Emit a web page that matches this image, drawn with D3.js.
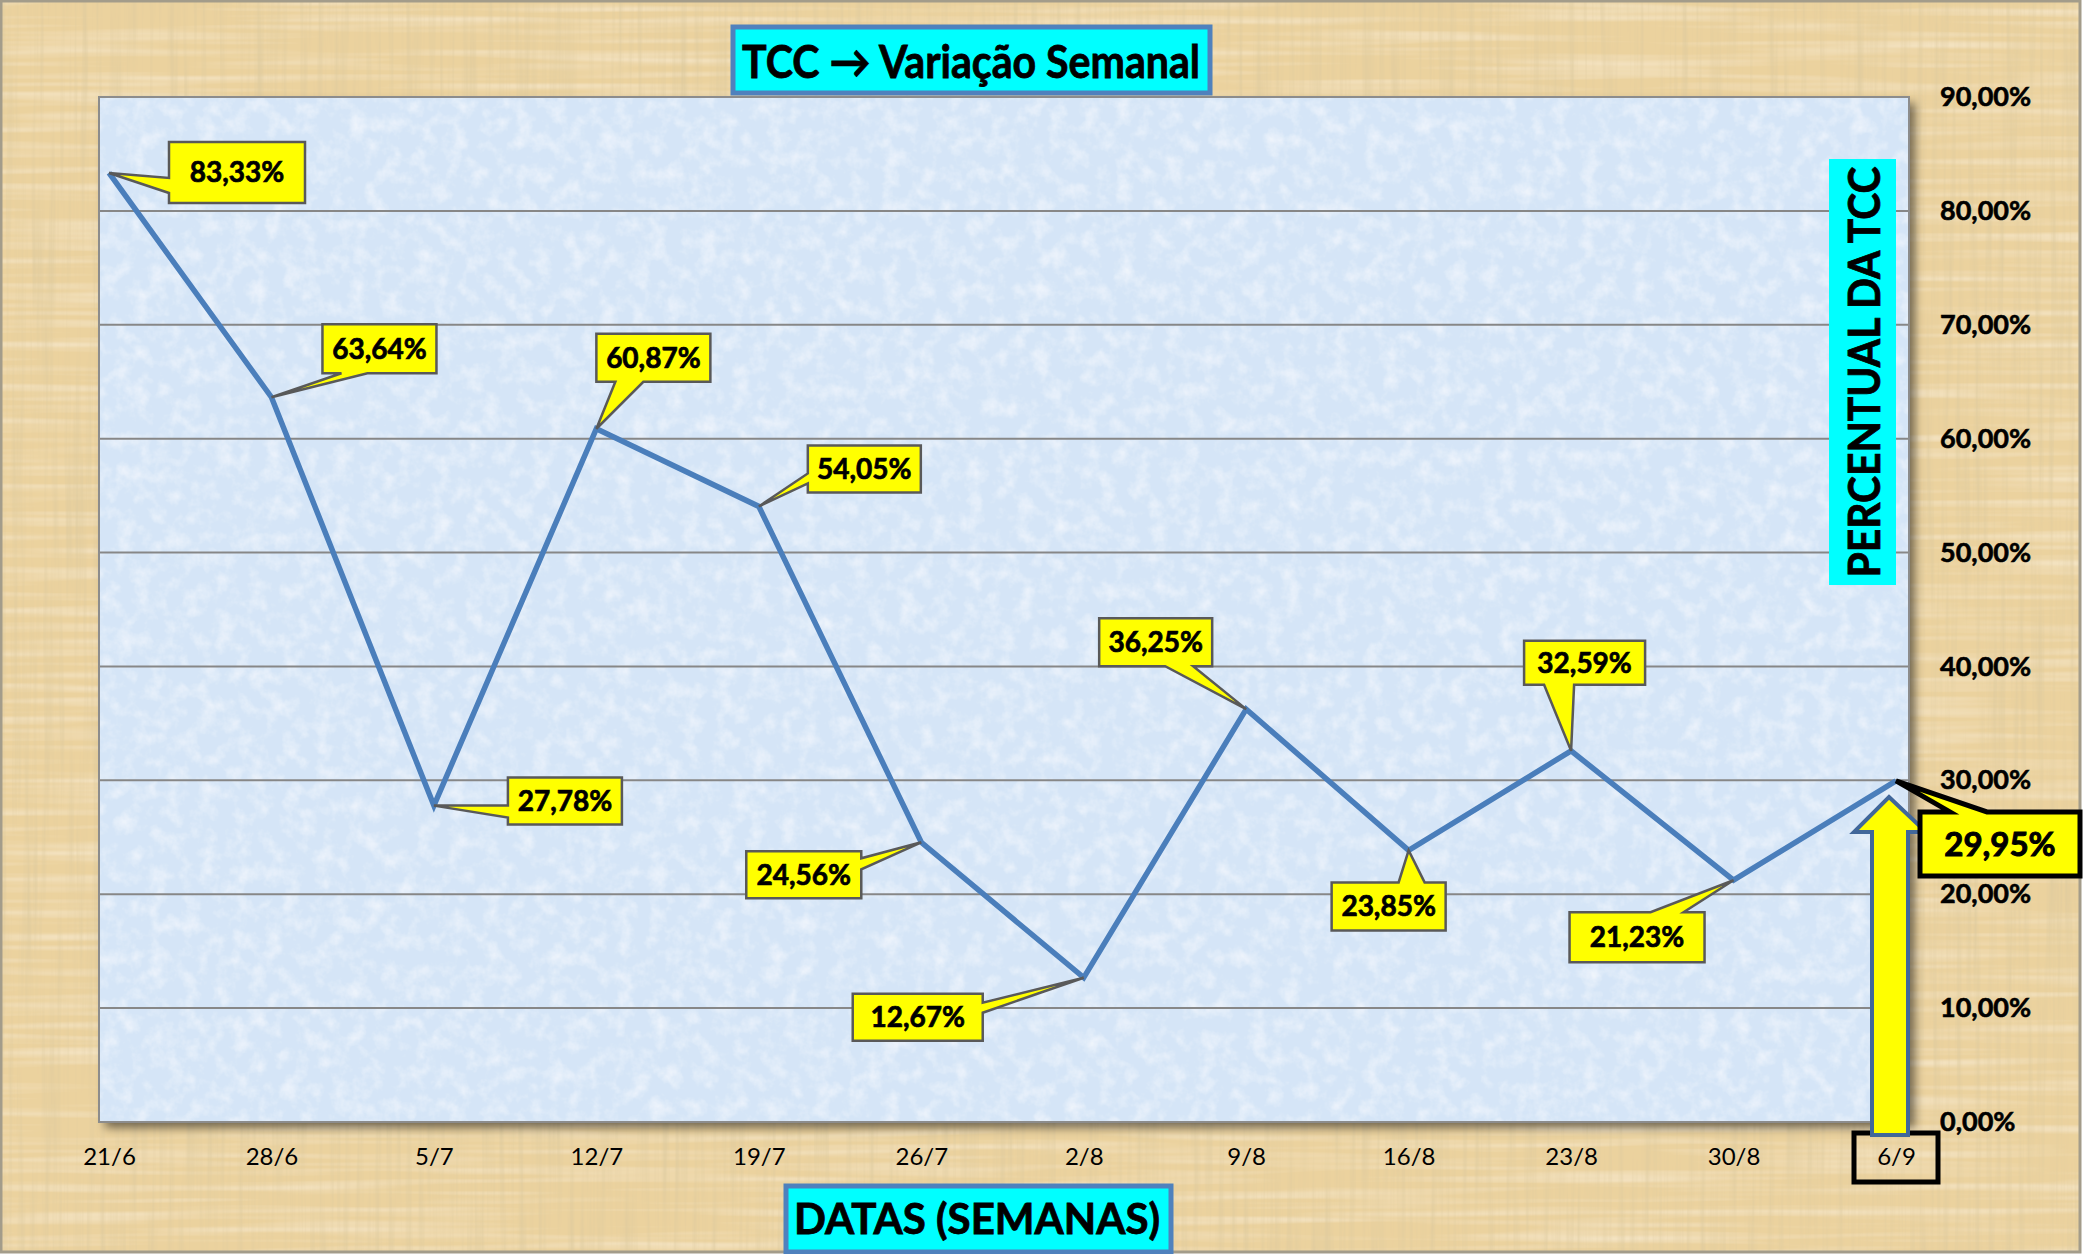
<!DOCTYPE html>
<html>
<head>
<meta charset="utf-8">
<script src="https://cdn.jsdelivr.net/npm/d3@7"></script>
<style>
  body { margin: 0; background: #ffffff; }
  svg { display: block; }
  text { font-family: Lato, "Open Sans", sans-serif; }
</style>
</head>
<body>
<svg id="chart" width="2096" height="1254"></svg>
<script>
// data
const semanas = ["21/6", "28/6", "5/7", "12/7", "19/7", "26/7", "2/8", "9/8", "16/8", "23/8", "30/8", "6/9"];
const tcc = [83.33, 63.64, 27.78, 60.87, 54.05, 24.56, 12.67, 36.25, 23.85, 32.59, 21.23, 29.95];
const yTicks = [0, 10, 20, 30, 40, 50, 60, 70, 80, 90];

// callout layout, offsets from the data point: box dx, dy, w, h, wedge side, wedge start/end
const callouts = [
  { dx: 60, dy: -31, w: 136, h: 61, side: "left", a: 36, b: 51 },
  { dx: 51, dy: -73, w: 114, h: 49, side: "bottom", a: 19, b: 45 },
  { dx: 74, dy: -28, w: 114, h: 47, side: "left", a: 28, b: 40 },
  { dx: 0, dy: -95, w: 114, h: 48, side: "bottom", a: 19, b: 47 },
  { dx: 49, dy: -61, w: 113, h: 47, side: "left", a: 28, b: 38 },
  { dx: -175, dy: 9, w: 115, h: 47, side: "right", a: 7, b: 18 },
  { dx: -231, dy: 16, w: 130, h: 47, side: "right", a: 9, b: 19 },
  { dx: -147, dy: -91, w: 113, h: 48, side: "bottom", a: 66, b: 94 },
  { dx: -77, dy: 32, w: 114, h: 48, side: "top", a: 67, b: 93 },
  { dx: -47, dy: -110, w: 121, h: 44, side: "bottom", a: 20, b: 50 },
  { dx: -164, dy: 32, w: 135, h: 50, side: "top", a: 81, b: 114 },
  { dx: 24, dy: 31, w: 160, h: 64, side: "top", a: 30, b: 67 }
];

const svg = d3.select("svg#chart");
const plot = { left: 99, right: 1909, top: 97, bottom: 1122 };

const ptBR = d3.formatLocale({ decimal: ",", thousands: ".", grouping: [3], currency: ["R$", ""] });
const pct = (v) => ptBR.format(".2f")(v) + "%";

const x = d3.scalePoint().domain(semanas).range([109, 1896]);
const y = d3.scaleLinear().domain([0, 90]).range([plot.bottom, plot.top]);

// textures
const defs = svg.append("defs");
const parch = defs.append("filter").attr("id", "parch")
  .attr("x", 0).attr("y", 0).attr("width", "100%").attr("height", "100%");
parch.append("feTurbulence").attr("type", "fractalNoise")
  .attr("baseFrequency", "0.16 0.005").attr("numOctaves", 3).attr("seed", 7).attr("result", "n");
parch.append("feColorMatrix").attr("in", "n").attr("type", "matrix")
  .attr("values", "0 0 0 0 0.70  0 0 0 0 0.58  0 0 0 0 0.34  0 0 0 1.2 -0.5")
  .attr("result", "streak");
parch.append("feTurbulence").attr("type", "fractalNoise")
  .attr("baseFrequency", "0.004 0.12").attr("numOctaves", 2).attr("seed", 11).attr("result", "n2");
parch.append("feColorMatrix").attr("in", "n2").attr("type", "matrix")
  .attr("values", "0 0 0 0 0.98  0 0 0 0 0.90  0 0 0 0 0.74  0 0 0 1.1 -0.48")
  .attr("result", "light");
parch.append("feComposite").attr("in", "light").attr("in2", "SourceGraphic").attr("operator", "over").attr("result", "base2");
parch.append("feComposite").attr("in", "streak").attr("in2", "base2").attr("operator", "over");

const frost = defs.append("filter").attr("id", "frost")
  .attr("x", 0).attr("y", 0).attr("width", "100%").attr("height", "100%");
frost.append("feTurbulence").attr("type", "fractalNoise")
  .attr("baseFrequency", "0.06").attr("numOctaves", 4).attr("seed", 3).attr("result", "n");
frost.append("feColorMatrix").attr("in", "n").attr("type", "matrix")
  .attr("values", "0 0 0 0 1  0 0 0 0 1  0 0 0 0 1  1.1 0 0 0 -0.48")
  .attr("result", "spots");
frost.append("feComposite").attr("in", "spots").attr("in2", "SourceGraphic").attr("operator", "over");

const shadow = defs.append("filter").attr("id", "shadow")
  .attr("x", "-5%").attr("y", "-5%").attr("width", "110%").attr("height", "110%");
shadow.append("feDropShadow").attr("dx", 6).attr("dy", 6).attr("stdDeviation", 5)
  .attr("flood-color", "#000").attr("flood-opacity", 0.5);

// background
svg.append("rect")
  .attr("x", 1).attr("y", 1).attr("width", 2079).attr("height", 1251)
  .attr("fill", "#ebd29e")
  .attr("filter", "url(#parch)");
svg.append("rect")
  .attr("x", 1).attr("y", 1).attr("width", 2079).attr("height", 1251)
  .attr("fill", "none").attr("stroke", "#a39c8a").attr("stroke-width", 3);

// plot area
svg.append("rect")
  .attr("x", plot.left).attr("y", plot.top)
  .attr("width", plot.right - plot.left).attr("height", plot.bottom - plot.top)
  .attr("fill", "#8a8a8a")
  .attr("filter", "url(#shadow)");
svg.append("rect")
  .attr("x", plot.left).attr("y", plot.top)
  .attr("width", plot.right - plot.left).attr("height", plot.bottom - plot.top)
  .attr("fill", "#d5e5f7")
  .attr("filter", "url(#frost)");

// gridlines
svg.append("g")
  .selectAll("line")
  .data(yTicks.filter((d) => d > 0 && d < 90))
  .join("line")
  .attr("x1", plot.left).attr("x2", plot.right)
  .attr("y1", (d) => y(d)).attr("y2", (d) => y(d))
  .attr("stroke", "#878787").attr("stroke-width", 2);

svg.append("rect")
  .attr("x", plot.left).attr("y", plot.top)
  .attr("width", plot.right - plot.left).attr("height", plot.bottom - plot.top)
  .attr("fill", "none").attr("stroke", "#8c8c8c").attr("stroke-width", 2);

// right axis
const yAxis = svg.append("g")
  .attr("transform", "translate(1940,0)")
  .call(d3.axisRight(y).tickValues(yTicks).tickSize(0).tickPadding(0).tickFormat(pct));
yAxis.select(".domain").remove();
yAxis.selectAll("text")
  .attr("font-family", "Lato, sans-serif")
  .attr("font-size", 27).attr("font-weight", "bold").attr("fill", "#000")
  .attr("stroke", "#000").attr("stroke-width", 0.6);

// bottom axis
const xAxis = svg.append("g")
  .attr("transform", `translate(0,${plot.bottom})`)
  .call(d3.axisBottom(x).tickSize(0).tickPadding(26));
xAxis.select(".domain").remove();
xAxis.selectAll("text")
  .attr("font-family", "Lato, sans-serif")
  .attr("font-size", 24).attr("fill", "#000");

// box around last date
const last = semanas[semanas.length - 1];
svg.append("rect")
  .attr("x", x(last) - 42).attr("y", 1133)
  .attr("width", 84).attr("height", 49)
  .attr("fill", "none").attr("stroke", "#000").attr("stroke-width", 5);

// line
svg.append("path")
  .datum(tcc)
  .attr("fill", "none")
  .attr("stroke", "#4a7ebb")
  .attr("stroke-width", 5.5)
  .attr("stroke-linejoin", "miter")
  .attr("d", d3.line().x((d, i) => x(semanas[i])).y((d) => y(d)));

// yellow arrow under the last point
const ax = x(last) - 7;
const arrowPts = [
  [ax, 797], [ax + 37, 832], [ax + 19, 832], [ax + 19, 1135],
  [ax - 17, 1135], [ax - 17, 832], [ax - 35, 832]
];
svg.append("polygon")
  .attr("points", arrowPts.map((p) => p.join(",")).join(" "))
  .attr("fill", "#ffff00")
  .attr("stroke", "#41679a")
  .attr("stroke-width", 4)
  .attr("stroke-linejoin", "miter");

// callouts
function calloutPath(px, py, c) {
  const x0 = px + c.dx, y0 = py + c.dy, x1 = x0 + c.w, y1 = y0 + c.h;
  const p = d3.path();
  if (c.side === "top") {
    p.moveTo(x0, y0); p.lineTo(x0 + c.a, y0); p.lineTo(px, py); p.lineTo(x0 + c.b, y0);
    p.lineTo(x1, y0); p.lineTo(x1, y1); p.lineTo(x0, y1);
  } else if (c.side === "right") {
    p.moveTo(x0, y0); p.lineTo(x1, y0); p.lineTo(x1, y0 + c.a); p.lineTo(px, py);
    p.lineTo(x1, y0 + c.b); p.lineTo(x1, y1); p.lineTo(x0, y1);
  } else if (c.side === "bottom") {
    p.moveTo(x0, y0); p.lineTo(x1, y0); p.lineTo(x1, y1); p.lineTo(x0 + c.b, y1);
    p.lineTo(px, py); p.lineTo(x0 + c.a, y1); p.lineTo(x0, y1);
  } else {
    p.moveTo(x0, y0); p.lineTo(x1, y0); p.lineTo(x1, y1); p.lineTo(x0, y1);
    p.lineTo(x0, y0 + c.b); p.lineTo(px, py); p.lineTo(x0, y0 + c.a);
  }
  p.closePath();
  return p.toString();
}

const labelG = svg.append("g")
  .selectAll("g")
  .data(tcc)
  .join("g");

labelG.append("path")
  .attr("d", (d, i) => calloutPath(x(semanas[i]), y(d), callouts[i]))
  .attr("fill", "#ffff00")
  .attr("stroke", (d, i) => (i === tcc.length - 1 ? "#000" : "#595959"))
  .attr("stroke-width", (d, i) => (i === tcc.length - 1 ? 5 : 2.5))
  .attr("stroke-linejoin", "miter");

labelG.append("text")
  .attr("x", (d, i) => x(semanas[i]) + callouts[i].dx + callouts[i].w / 2)
  .attr("y", (d, i) => {
    const big = i === tcc.length - 1;
    return y(d) + callouts[i].dy + callouts[i].h / 2 + (big ? 12 : 10);
  })
  .attr("text-anchor", "middle")
  .attr("font-size", (d, i) => (i === tcc.length - 1 ? 33 : 28))
  .attr("font-weight", "bold")
  .attr("fill", "#000")
  .attr("stroke", "#000")
  .attr("stroke-width", (d, i) => (i === tcc.length - 1 ? 1 : 0.7))
  .text((d) => pct(d));

// title boxes
svg.append("rect")
  .attr("x", 733).attr("y", 27).attr("width", 477).attr("height", 66)
  .attr("fill", "#00ffff").attr("stroke", "#4f81bd").attr("stroke-width", 5);
svg.append("text")
  .attr("x", 971).attr("y", 78)
  .attr("text-anchor", "middle")
  .attr("font-size", 45).attr("font-weight", "bold").attr("fill", "#000")
  .attr("stroke", "#000").attr("stroke-width", 0.8)
  .attr("textLength", 458).attr("lengthAdjust", "spacingAndGlyphs")
  .text("TCC \u2192 Variação Semanal");

svg.append("rect")
  .attr("x", 786).attr("y", 1186).attr("width", 385).attr("height", 66)
  .attr("fill", "#00ffff").attr("stroke", "#4f81bd").attr("stroke-width", 5);
svg.append("text")
  .attr("x", 977).attr("y", 1234)
  .attr("text-anchor", "middle")
  .attr("font-size", 42).attr("font-weight", "bold").attr("fill", "#000")
  .attr("stroke", "#000").attr("stroke-width", 0.8)
  .attr("textLength", 366).attr("lengthAdjust", "spacingAndGlyphs")
  .text("DATAS (SEMANAS)");

svg.append("rect")
  .attr("x", 1829).attr("y", 159).attr("width", 67).attr("height", 426)
  .attr("fill", "#00ffff");
svg.append("text")
  .attr("transform", "translate(1880,372) rotate(-90)")
  .attr("text-anchor", "middle")
  .attr("font-size", 44).attr("font-weight", "bold").attr("fill", "#000")
  .attr("stroke", "#000").attr("stroke-width", 0.8)
  .attr("textLength", 411).attr("lengthAdjust", "spacingAndGlyphs")
  .text("PERCENTUAL DA TCC");
</script>
</body>
</html>
